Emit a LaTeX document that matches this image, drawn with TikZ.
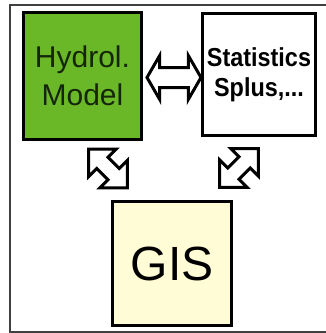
\documentclass[tikz,border=0pt]{standalone}
\usepackage{fontspec}
\setmainfont{Liberation Sans}
\newfontfamily\statfont[FakeStretch=0.9]{Liberation Sans Bold}
\usetikzlibrary{shapes.arrows, calc}
\definecolor{ModelGreen}{HTML}{6AB828}
\definecolor{ModelText}{HTML}{16260A}
\definecolor{GISYellow}{HTML}{FFFCD6}
\definecolor{FrameGray}{HTML}{404040}

\begin{document}
\begin{tikzpicture}[x=1pt, y=-1pt,
    box/.style={draw, line width=3pt, inner sep=0pt, align=center},
    fatarrow/.style={shape=double arrow, draw, fill=white, line width=3pt,
      inner sep=0pt, inner ysep=#1}]
  \useasboundingbox (0,0) rectangle (326,333);
  % Frame
  \draw[FrameGray, line width=1.5pt] (330,5) -- (10,5) -- (10,332) -- (330,332);
  % Boxes
  \node[box, fill=ModelGreen, text=ModelText, minimum width=118pt, minimum height=127pt,
    font=\fontsize{30}{38}\selectfont] (hydro) at (82.5,76) {Hydrol.\\Model};
  \node[box, fill=white, minimum width=113pt, minimum height=122pt,
    font=\statfont\fontsize{26}{30}\selectfont] (stats) at (259,74.5) {Statistics\\Splus,...};
  \node[box, fill=GISYellow, minimum width=119pt, minimum height=124pt,
    font=\fontsize{48}{58}\selectfont] (gis) at (172,263.5) {GIS};
  % Arrows
  \node[fatarrow=8.5pt, minimum height=54pt, double arrow head extend=12pt,
    double arrow tip angle=120] (hydrostats) at (174,77.5) {};
  \node[fatarrow=6.5pt, minimum height=55pt, double arrow head extend=11.5pt,
    rotate=-45] (hydrogis) at (108,168.5) {};
  \node[fatarrow=6.5pt, minimum height=55pt, double arrow head extend=11.5pt,
    rotate=45] (statsgis) at (239,168) {};
\end{tikzpicture}
\end{document}
